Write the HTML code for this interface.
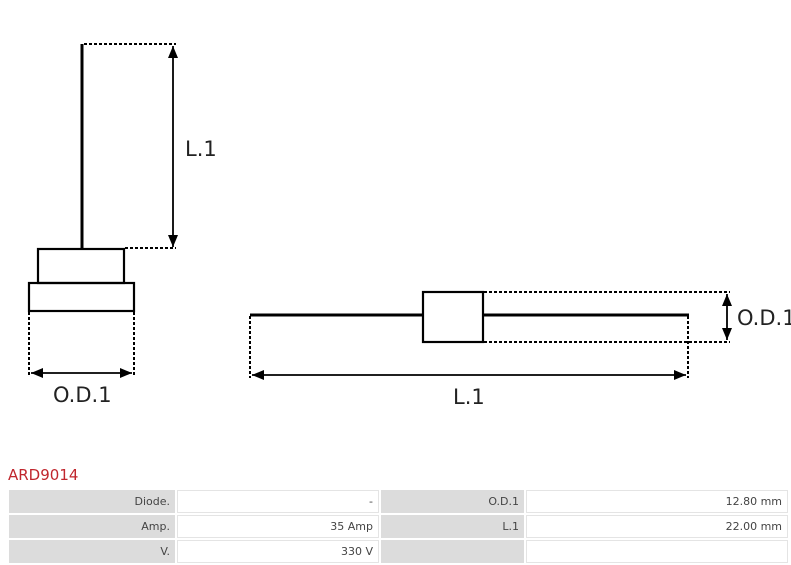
<!DOCTYPE html>
<html><head><style>
body{margin:0;width:791px;height:564px;background:#fff;position:relative;overflow:hidden;font-family:"DejaVu Sans","Liberation Sans",sans-serif}
svg{position:absolute;left:0;top:0}
.t{position:absolute;left:8px;top:466px;color:#c0262d;font-size:15px}
table{position:absolute;left:7px;top:488px;width:783px;border-collapse:separate;border-spacing:2px;font-size:11px;color:#444}
td{height:21px;text-align:right;padding:0 5px;}
.g{background:#dcdcdc}
.w{background:#fff;border:1px solid #e4e4e4}
</style></head><body>
<svg width="791" height="564" viewBox="0 0 791 564">
<defs>
<marker id="a" viewBox="0 0 12 10" refX="12" refY="5" markerWidth="12" markerHeight="10" markerUnits="userSpaceOnUse" orient="auto-start-reverse"><path d="M0,0 L12,5 L0,10z" fill="#000"/></marker>
</defs>
<g stroke="#000" fill="none">
<line x1="82" y1="44" x2="82" y2="249" stroke-width="3"/>
<rect x="38" y="249" width="86" height="34" stroke-width="2.2"/>
<rect x="29" y="283" width="105" height="28" stroke-width="2.2"/>
<g stroke-dasharray="3,2" stroke-width="2">
<line x1="84" y1="44" x2="176" y2="44"/>
<line x1="125" y1="248" x2="176" y2="248"/>
<line x1="29" y1="312" x2="29" y2="376"/>
<line x1="134" y1="312" x2="134" y2="376"/>
<line x1="484" y1="292" x2="730" y2="292"/>
<line x1="484" y1="342" x2="730" y2="342"/>
<line x1="250" y1="316" x2="250" y2="378"/>
<line x1="688" y1="316" x2="688" y2="378"/>
</g>
<line x1="173" y1="46" x2="173" y2="247" stroke-width="1.8" marker-start="url(#a)" marker-end="url(#a)"/>
<line x1="31" y1="373" x2="132" y2="373" stroke-width="1.8" marker-start="url(#a)" marker-end="url(#a)"/>
<line x1="250" y1="315" x2="423" y2="315" stroke-width="3"/>
<line x1="483" y1="315" x2="689" y2="315" stroke-width="3"/>
<rect x="423" y="292" width="60" height="50" stroke-width="2.2"/>
<line x1="727" y1="294" x2="727" y2="340" stroke-width="1.8" marker-start="url(#a)" marker-end="url(#a)"/>
<line x1="252" y1="375" x2="686" y2="375" stroke-width="1.8" marker-start="url(#a)" marker-end="url(#a)"/>
</g>
<g font-family="DejaVu Sans, sans-serif" font-size="21" fill="#222">
<text x="185" y="156">L.1</text>
<text x="53" y="402">O.D.1</text>
<text x="737" y="325">O.D.1</text>
<text x="453" y="404">L.1</text>
</g>
</svg>
<div class="t">ARD9014</div>
<table>
<tr><td class="g" style="width:156px">Diode.</td><td class="w" style="width:190px">-</td><td class="g" style="width:133px">O.D.1</td><td class="w">12.80 mm</td></tr>
<tr><td class="g">Amp.</td><td class="w">35 Amp</td><td class="g">L.1</td><td class="w">22.00 mm</td></tr>
<tr><td class="g">V.</td><td class="w">330 V</td><td class="g"></td><td class="w"></td></tr>
</table>
</body></html>
